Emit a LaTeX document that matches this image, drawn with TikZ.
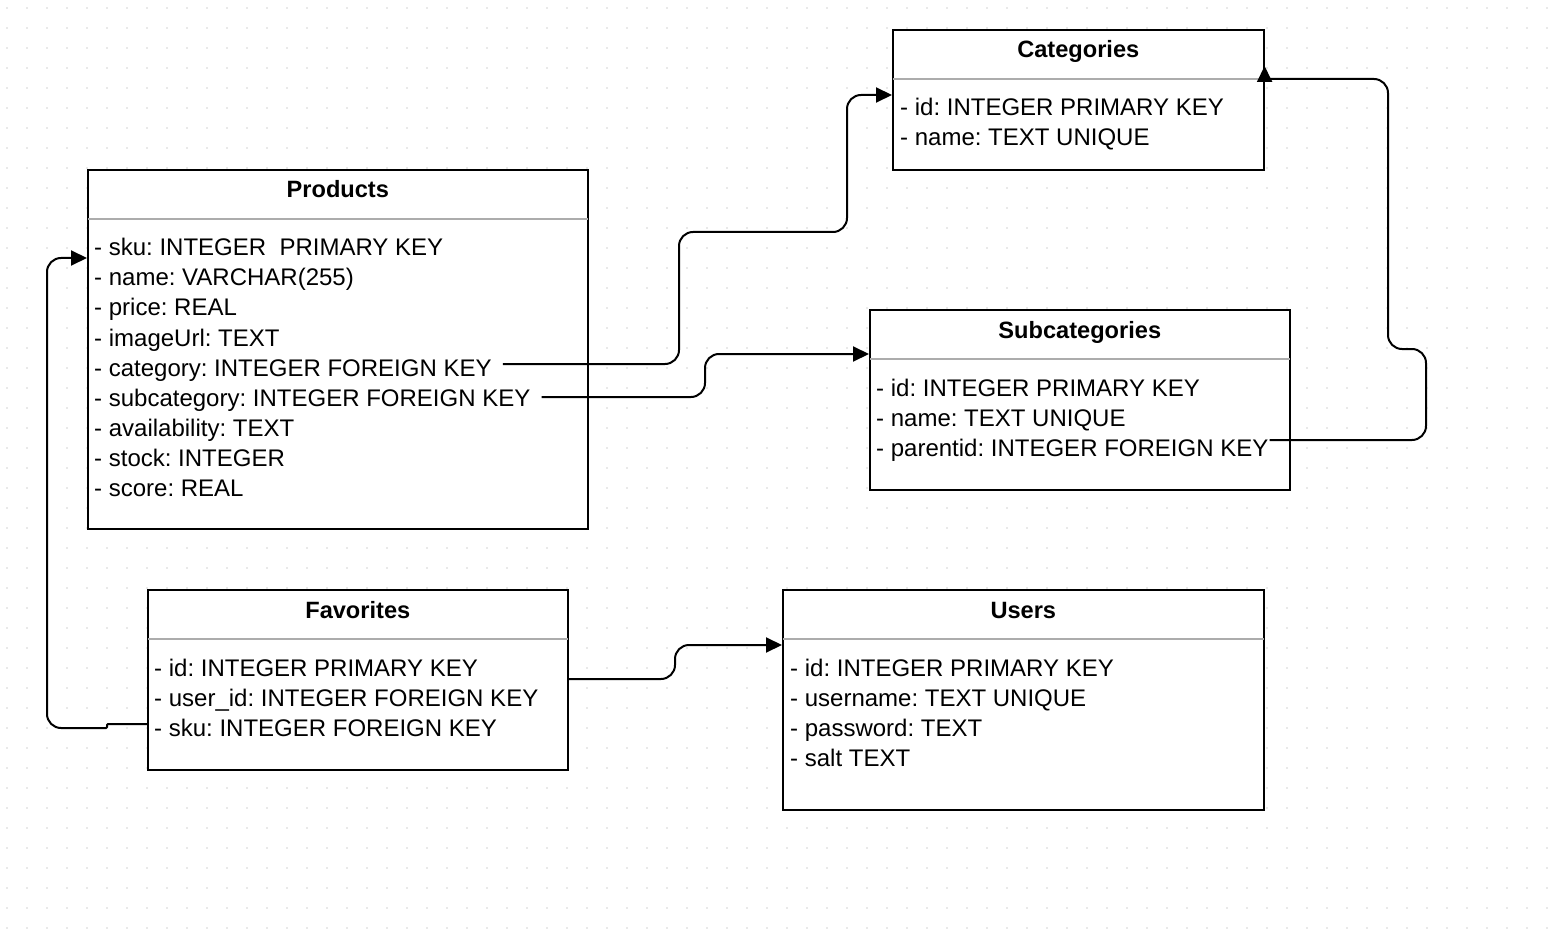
\documentclass[tikz,border=0pt]{standalone}
\usepackage{fontspec}
\setmainfont{Liberation Sans}
\usetikzlibrary{calc,arrows.meta}
\frenchspacing
\begin{document}
\begin{tikzpicture}[x=1pt,y=-1pt,
  box/.style={draw=black,line width=1.6pt,fill=white,anchor=north west,inner sep=0},
  divider/.style={draw=gray!65,line width=2pt},
  row/.style={anchor=base west,inner sep=0,font=\fontsize{24}{28}\selectfont},
  ttl/.style={anchor=base,inner sep=0,font=\fontsize{23.6}{28}\selectfont\bfseries},
  conn/.style={draw=black,line width=2pt,rounded corners=14pt},
  tip/.style={-{Triangle[length=16pt,width=15pt]}},
]
\useasboundingbox (0,0) rectangle (1548,944);
\fill[white] (0,0) rectangle (1548,944);
\fill[gray!40] \foreach \gx in {7,27,...,1547} {\foreach \gy in {8,28,...,928} {(\gx-0.7,\gy-0.7) rectangle ++(1.4,1.4)}};

% boxes
\node[box,minimum width=500pt,minimum height=359pt] (prod) at (87,169) {};
\node[box,minimum width=371pt,minimum height=140pt] (cat) at (892,29) {};
\node[box,minimum width=420pt,minimum height=180pt] (subcat) at (869,309) {};
\node[box,minimum width=420pt,minimum height=180pt] (fav) at (147,589) {};
\node[box,minimum width=481pt,minimum height=220pt] (users) at (782,589) {};

% dividers
\foreach \b in {prod,cat,subcat,fav,users}{
  \draw[divider] ($(\b.north west)+(1,50)$) -- ($(\b.north east)+(-1,50)$);
}

% titles
\node[ttl] (prod-t) at ($(prod.north)+(0,29)$) {Products};
\node[ttl] (cat-t) at ($(cat.north)+(0,29)$) {Categories};
\node[ttl] (subcat-t) at ($(subcat.north)+(0,29)$) {Subcategories};
\node[ttl] (fav-t) at ($(fav.north)+(0,29)$) {Favorites};
\node[ttl] (users-t) at ($(users.north)+(0,29)$) {Users};

% rows
\foreach \t [count=\i] in {{- sku: INTEGER~~PRIMARY KEY},{- name: VARCHAR(255)},{- price: REAL},{- imageUrl: TEXT},{- category: INTEGER FOREIGN KEY},{- subcategory: INTEGER FOREIGN KEY},{- availability: TEXT},{- stock: INTEGER},{- score: REAL}}
  \node[row] (prod-\i) at ($(prod.north west)+(7,57+30*\i)$) {\t};
\foreach \t [count=\i] in {{- id: INTEGER PRIMARY KEY},{- name: TEXT UNIQUE}}
  \node[row] (cat-\i) at ($(cat.north west)+(8,57+30*\i)$) {\t};
\foreach \t [count=\i] in {{- id: INTEGER PRIMARY KEY},{- name: TEXT UNIQUE},{- parentid: INTEGER FOREIGN KEY}}
  \node[row] (subcat-\i) at ($(subcat.north west)+(7,57+30*\i)$) {\t};
\foreach \t [count=\i] in {{- id: INTEGER PRIMARY KEY},{- user\_id: INTEGER FOREIGN KEY},{- sku: INTEGER FOREIGN KEY}}
  \node[row] (fav-\i) at ($(fav.north west)+(7,57+30*\i)$) {\t};
\foreach \t [count=\i] in {{- id: INTEGER PRIMARY KEY},{- username: TEXT UNIQUE},{- password: TEXT},{- salt TEXT}}
  \node[row] (users-\i) at ($(users.north west)+(8,57+30*\i)$) {\t};

% connectors
\draw[conn,tip] ($(prod-5.base east)+(11,-12)$) -- (679,364) -- (679,232) -- (847,232) -- (847,95) -- ($(cat.north west)+(0,66)$);
\draw[conn,tip] ($(prod-6.base east)+(11,-9)$) -- (705,397) -- (705,354) -- ($(subcat.north west)+(0,45)$);
\draw[conn] ($(subcat-3.base east)+(1,-16)$) -- (1426,440) -- (1426,349) -- (1388,349) -- (1388,79) -- ($(cat.north east)+(0,50)$);
\draw[line width=2pt,tip] ($(cat.north east)+(0,53)$) -- ($(cat.north east)+(0,37)$);
\draw[conn,tip,rounded corners=1pt] ($(fav.north west)+(0,135)$) -- (107,724) -- (107,728) [rounded corners=14pt] -- (47,728) -- (47,258) -- ($(prod.north west)+(0,89)$);
\draw[conn,tip] ($(fav.north east)+(0,90)$) -- (675,679) -- (675,645) -- ($(users.north west)+(0,56)$);
\end{tikzpicture}
\end{document}
